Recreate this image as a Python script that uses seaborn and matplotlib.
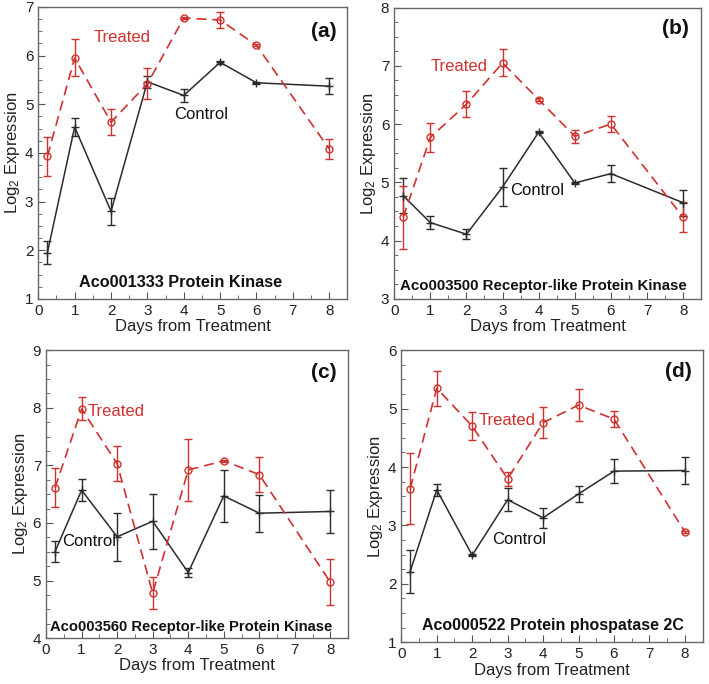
import numpy as np
import pandas as pd
import matplotlib
matplotlib.use("Agg")
import matplotlib.pyplot as plt
from matplotlib.ticker import MultipleLocator
import seaborn as sns

days = [0.25, 1, 2, 3, 4, 5, 6, 8]

# panel (a) Aco001333
a_treated = [3.93, 5.95, 4.63, 5.42, 6.77, 6.73, 6.21, 4.08]
a_treated_err = [0.40, 0.38, 0.27, 0.32, 0.02, 0.16, 0.02, 0.20]
a_control = [1.95, 4.53, 2.80, 5.46, 5.18, 5.86, 5.44, 5.37]
a_control_err = [0.23, 0.19, 0.28, 0.12, 0.14, 0.03, 0.02, 0.17]

# panel (b) Aco003500
b_treated = [4.40, 5.77, 6.34, 7.05, 6.42, 5.79, 6.00, 4.40]
b_treated_err = [0.54, 0.25, 0.22, 0.23, 0.02, 0.11, 0.14, 0.26]
b_control = [4.77, 4.31, 4.11, 4.92, 5.86, 4.99, 5.15, 4.65]
b_control_err = [0.30, 0.11, 0.09, 0.32, 0.02, 0.02, 0.15, 0.22]

# panel (c) Aco003560
c_treated = [6.61, 7.98, 7.03, 4.78, 6.92, 7.08, 6.84, 4.97]
c_treated_err = [0.34, 0.20, 0.30, 0.28, 0.53, 0.02, 0.31, 0.40]
c_control = [5.50, 6.57, 5.76, 6.03, 5.14, 6.47, 6.17, 6.20]
c_control_err = [0.18, 0.19, 0.42, 0.48, 0.08, 0.45, 0.32, 0.37]

# panel (d) Aco000522
d_treated = [3.63, 5.35, 4.70, 3.80, 4.76, 5.06, 4.82, 2.89]
d_treated_err = [0.61, 0.30, 0.24, 0.12, 0.27, 0.28, 0.14, 0.02]
d_control = [2.21, 3.61, 2.49, 3.44, 3.13, 3.54, 3.93, 3.94]
d_control_err = [0.37, 0.10, 0.02, 0.20, 0.17, 0.14, 0.20, 0.23]

gene_titles = ["Aco001333 Protein Kinase",
               "Aco003500 Receptor-like Protein Kinase",
               "Aco003560 Receptor-like Protein Kinase",
               "Aco000522 Protein phospatase 2C"]
panel_tags = ["(a)", "(b)", "(c)", "(d)"]
y_limits = [(1, 7), (3, 8), (4, 9), (1, 6)]

RED = "#d0312d"
BLACK = "#2b2b2b"

sns.set_style("ticks")
plt.rcParams['font.family'] = ['Liberation Sans', 'DejaVu Sans']
plt.rcParams['mathtext.default'] = 'regular'

fig = plt.figure(figsize=(7.09, 6.84), dpi=100)
positions = [
    [0.054, 0.563, 0.436, 0.427],
    [0.556, 0.563, 0.433, 0.426],
    [0.065, 0.067, 0.426, 0.421],
    [0.566, 0.061, 0.425, 0.427],
]

panels = [
    (a_treated, a_treated_err, a_control, a_control_err),
    (b_treated, b_treated_err, b_control, b_control_err),
    (c_treated, c_treated_err, c_control, c_control_err),
    (d_treated, d_treated_err, d_control, d_control_err),
]

# label placements (data coords)
treated_xy = [(2.3, 6.38), (1.8, 6.99), (1.97, 7.93), (2.99, 4.79)]
control_xy = [(4.47, 4.79), (3.96, 4.86), (1.22, 5.68), (3.31, 2.76)]
tag_xy = [(7.85, 6.5), (7.8, 7.64), (7.83, 8.62), (7.83, 5.63)]
title_xy = [(3.9, 1.33), (4.12, 3.22), (4.07, 4.2), (4.27, 1.28)]
title_size = [11.7, 10.8, 10.6, 11.5]

for i, (tr, tr_err, ct, ct_err) in enumerate(panels):
    ax = fig.add_axes(positions[i])
    df = pd.DataFrame({"day": days, "treated": tr, "control": ct})

    ax.errorbar(days, ct, yerr=ct_err, fmt="none", ecolor=BLACK,
                elinewidth=1.0, capsize=3, capthick=1.0, zorder=2)
    ax.errorbar(days, tr, yerr=tr_err, fmt="none", ecolor=RED,
                elinewidth=1.0, capsize=3, capthick=1.0, zorder=2)
    sns.lineplot(data=df, x="day", y="control", ax=ax, color=BLACK,
                 linewidth=1.1, marker="+", markersize=6,
                 markeredgecolor=BLACK, markeredgewidth=1.0, zorder=3)
    sns.lineplot(data=df, x="day", y="treated", ax=ax, color=RED,
                 linewidth=1.2, linestyle=(0, (6, 3.5)), marker="o",
                 markersize=5, markerfacecolor="none",
                 markeredgecolor=RED, markeredgewidth=1.0, zorder=3)

    ax.set_xlim(0, 8.5)
    ax.set_ylim(*y_limits[i])
    ax.xaxis.set_major_locator(MultipleLocator(1))
    ax.xaxis.set_minor_locator(MultipleLocator(0.5))
    ax.yaxis.set_major_locator(MultipleLocator(1))
    ax.yaxis.set_minor_locator(MultipleLocator(0.25))
    ax.tick_params(which="both", direction="in", colors="#555555",
                   labelcolor="#222222", labelsize=11)
    ax.tick_params(which="major", length=5)
    ax.tick_params(which="minor", length=3)
    for sp in ax.spines.values():
        sp.set_color("#666666")
        sp.set_linewidth(1.0)

    ax.set_xlabel("Days from Treatment", fontsize=12, labelpad=1,
                  color="#222222")
    ax.set_ylabel("Log$_2$ Expression", fontsize=12, labelpad=2,
                  color="#222222")

    ax.text(*treated_xy[i], "Treated", color=RED, fontsize=12,
            ha="center", va="center")
    ax.text(*control_xy[i], "Control", color="#111111", fontsize=12,
            ha="center", va="center")
    ax.text(*tag_xy[i], panel_tags[i], fontsize=15, fontweight="bold",
            ha="center", va="center", color="#111111")
    ax.text(*title_xy[i], gene_titles[i], fontsize=title_size[i],
            fontweight="bold", ha="center", va="center", color="#111111")

fig.savefig("out.png", dpi=100)
